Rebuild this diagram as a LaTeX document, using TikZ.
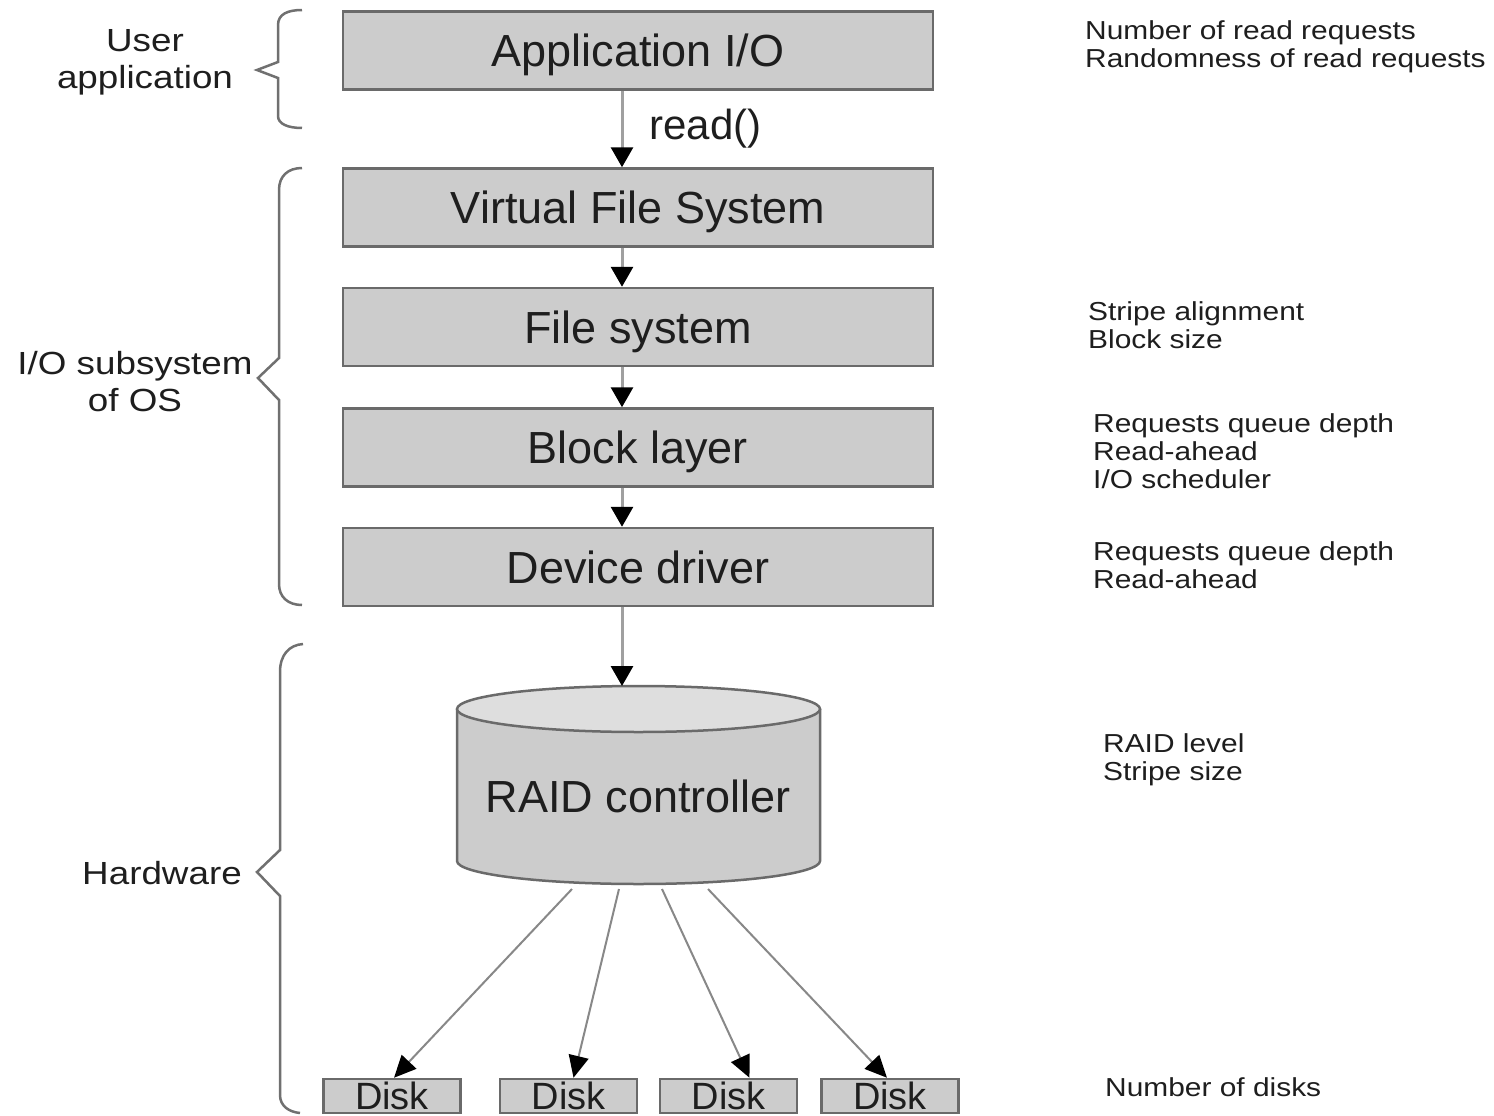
\documentclass[tikz,border=0pt]{standalone}
\usepackage{fontspec}
\setmainfont{Liberation Sans}
\newfontfamily\sidefont[FakeStretch=1.15]{Liberation Sans}
\usetikzlibrary{arrows.meta}
\definecolor{boxfill}{HTML}{CCCCCC}
\definecolor{boxline}{HTML}{6A6A6A}
\definecolor{topfill}{HTML}{DEDEDE}
\definecolor{shaft}{HTML}{A0A0A0}
\definecolor{bracecol}{HTML}{707070}
\definecolor{txt}{HTML}{1E1E1E}
\begin{document}
\begin{tikzpicture}[x=1pt,y=-1pt,
  layer/.style={draw=boxline, fill=boxfill, line width=2.5pt, minimum width=590pt, minimum height=78pt,
    inner sep=0pt, text=txt, font=\fontsize{45}{54}\selectfont, text height=32pt, text depth=0pt},
  diskbox/.style={draw=boxline, fill=boxfill, line width=2.5pt, minimum width=137pt, minimum height=34pt,
    inner sep=0pt, text=txt, font=\fontsize{38}{46}\selectfont, text height=27pt, text depth=0pt},
  flow/.style={draw=shaft, line width=3pt, -{Triangle[length=20pt,width=22pt,black]}},
  thinflow/.style={draw=shaft!85!black, line width=2pt, -{Triangle[length=22pt,width=20pt,black]}},
  bracepath/.style={draw=bracecol, line width=2.5pt, line join=miter},
  leftlab/.style={align=center, inner sep=0pt, text=txt, font=\sidefont\fontsize{32}{37}\selectfont},
  rightlab/.style={align=left, anchor=west, inner sep=0pt, text=txt, font=\sidefont\fontsize{26}{28}\selectfont},
  cyl/.style={draw=boxline, line width=2.5pt}
]
\useasboundingbox (0,0) rectangle (1494,1116);
\fill[white] (0,0) rectangle (1494,1116);

% layers
\node[layer] (app) at (638,50.5) {Application I/O};
\node[layer] (vfs) at (638,207.5) {Virtual File System};
\node[layer] (fs)  at (638,327) {File system};
\node[layer] (blk) at (638,447.5) {Block layer};
\node[layer] (dd)  at (638,567) {Device driver};

% RAID controller cylinder
\fill[boxfill] (457,709) -- (457,861) arc[start angle=180,end angle=0,x radius=181.5,y radius=23] -- (820,709) -- cycle;
\draw[cyl] (457,709) -- (457,861) arc[start angle=180,end angle=0,x radius=181.5,y radius=23] -- (820,709);
\draw[cyl, fill=topfill] (638.5,709) ellipse [x radius=181.5, y radius=23];
\node[inner sep=0pt, text=txt, font=\fontsize{45}{54}\selectfont, text height=32pt, text depth=0pt] (raid) at (638.5,796) {RAID controller};
\coordinate (raidtop) at (622,686);
\coordinate (c1) at (572,889);
\coordinate (c2) at (619,889);
\coordinate (c3) at (662,889);
\coordinate (c4) at (708,889);

% disks
\node[diskbox] (d1) at (392,1096) {Disk};
\node[diskbox] (d2) at (568.5,1096) {Disk};
\node[diskbox] (d3) at (728.5,1096) {Disk};
\node[diskbox] (d4) at (890,1096) {Disk};

% arrows
\draw[flow] ([xshift=-16pt]app.south) -- node[anchor=west, inner sep=0pt, xshift=26pt, text=txt, font=\fontsize{42}{50}\selectfont]{read()} ([xshift=-16pt]vfs.north);
\draw[flow] ([xshift=-16pt]vfs.south) -- ([xshift=-16pt]fs.north);
\draw[flow] ([xshift=-16pt]fs.south) -- ([xshift=-16pt]blk.north);
\draw[flow] ([xshift=-16pt]blk.south) -- ([xshift=-16pt]dd.north);
\draw[flow] ([xshift=-16pt]dd.south) -- (raidtop);
\draw[thinflow] (c1) -- ([xshift=2pt]d1.north);
\draw[thinflow] (c2) -- ([xshift=5pt]d2.north);
\draw[thinflow] (c3) -- ([xshift=21pt]d3.north);
\draw[thinflow] (c4) -- ([xshift=-3pt]d4.north);

% braces
\draw[bracepath] (302,10) .. controls (288,10) and (278,14) .. (278,25) -- (278,62) -- (257,70) -- (278,78) -- (278,116) .. controls (278,124) and (288,128) .. (302,128);
\draw[bracepath] (302,168) .. controls (288,168) and (279,176) .. (279,190) -- (279,358) -- (258,378) -- (279,400) -- (279,584) .. controls (279,597) and (288,605) .. (302,605);
\draw[bracepath] (303,644) .. controls (289,645) and (280,655) .. (280,672) -- (280,850) -- (257,872) -- (280,896) -- (280,1095) .. controls (280,1106) and (289,1112) .. (300,1113);

% left labels
\node[leftlab] (lua) at (145,62) {User\\application};
\node[leftlab] (lio) at (135,382) {I/O subsystem\\of OS};
\node[leftlab] (lhw) at (162,873) {Hardware};

% right labels
\node[rightlab] (r1) at (1085,47) {Number of read requests\\Randomness of read requests};
\node[rightlab] (r2) at (1088,325) {Stripe alignment\\Block size};
\node[rightlab] (r3) at (1093,451) {Requests queue depth\\Read-ahead\\I/O scheduler};
\node[rightlab] (r4) at (1093,565) {Requests queue depth\\Read-ahead};
\node[rightlab] (r5) at (1103,760) {RAID level\\Stripe size};
\node[rightlab] (r6) at (1105,1087) {Number of disks};
\end{tikzpicture}
\end{document}
